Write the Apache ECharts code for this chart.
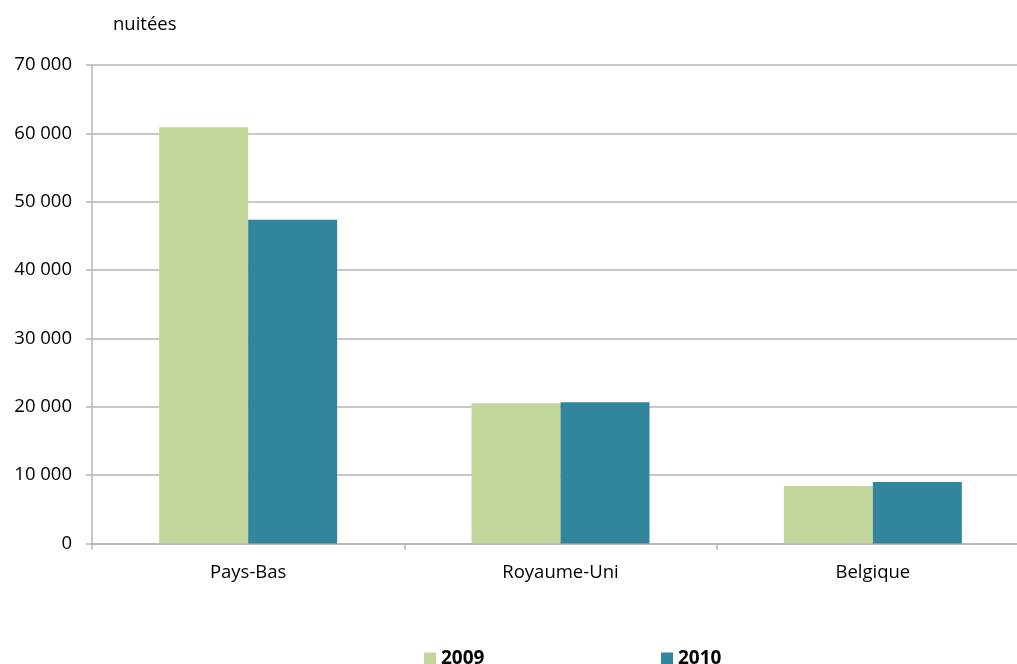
<!DOCTYPE html>
<html>
<head>
<meta charset="utf-8">
<script src="https://cdn.jsdelivr.net/npm/echarts@6/dist/echarts.min.js"></script>
<style>
  html, body { margin: 0; padding: 0; background: #fff; overflow: hidden; width: 1017px; height: 664px; }
  /* the plot runs slightly past the right edge of the page, so the canvas is wider and clipped */
  #chart { width: 1030px; height: 664px; }
</style>
</head>
<body>
<div id="chart"></div>
<script>
// Nuitées par pays d'origine, 2009 et 2010
const categories = ['Pays-Bas', 'Royaume-Uni', 'Belgique'];
const values2009 = [60900, 20500, 8400];
const values2010 = [47350, 20650, 9000];
const seriesNames = ['2009', '2010'];
const yTicks = { min: 0, max: 70000, interval: 10000 };
const unitLabel = 'nuitées';

const FONT = '"Open Sans", "Noto Sans", sans-serif';
const GREEN = '#C3D69B';
const TEAL = '#31859C';
const GRID = '#B4B4B4';

const chart = echarts.init(document.getElementById('chart'), null, { renderer: 'canvas' });

function fmt(v) {
  return String(v).replace(/\B(?=(\d{3})+(?!\d))/g, ' ');
}

const legendText = { fontFamily: FONT, fontSize: 19, fontWeight: 'bold', color: '#000' };

chart.setOption({
  animation: false,
  backgroundColor: '#fff',
  textStyle: { fontFamily: FONT },
  title: {
    text: unitLabel,
    left: 108,
    top: 10,
    textStyle: { fontFamily: FONT, fontSize: 18.5, fontWeight: 'normal', color: '#000' }
  },
  legend: [
    {
      data: [seriesNames[0]],
      left: 419, top: 644,
      itemWidth: 12, itemHeight: 12, itemGap: 6,
      icon: 'rect',
      textStyle: legendText
    },
    {
      data: [seriesNames[1]],
      left: 656, top: 644,
      itemWidth: 12, itemHeight: 12, itemGap: 6,
      icon: 'rect',
      textStyle: legendText
    }
  ],
  grid: { left: 92, top: 65, width: 937, height: 478.5, containLabel: false },
  xAxis: {
    type: 'category',
    data: categories,
    boundaryGap: true,
    axisLine: { show: true, lineStyle: { color: GRID, width: 1.5 } },
    axisTick: { show: true, length: 6, lineStyle: { color: GRID, width: 1.5 } },
    axisLabel: { fontFamily: FONT, fontSize: 18.5, color: '#000', margin: 20 },
    splitLine: { show: false }
  },
  yAxis: {
    type: 'value',
    min: yTicks.min, max: yTicks.max, interval: yTicks.interval,
    axisLine: { show: true, lineStyle: { color: GRID, width: 1.5 } },
    axisTick: { show: true, inside: false, length: 6, lineStyle: { color: GRID, width: 1.5 } },
    axisLabel: { fontFamily: FONT, fontSize: 18.5, color: '#000', margin: 20, formatter: fmt },
    splitLine: { show: true, lineStyle: { color: GRID, width: 1.5 } }
  },
  series: [
    {
      name: seriesNames[0], type: 'bar', data: values2009,
      barGap: '0%', barCategoryGap: '43%',
      itemStyle: { color: GREEN }
    },
    {
      name: seriesNames[1], type: 'bar', data: values2010,
      barGap: '0%', barCategoryGap: '43%',
      itemStyle: { color: TEAL }
    }
  ]
});
</script>
</body>
</html>
